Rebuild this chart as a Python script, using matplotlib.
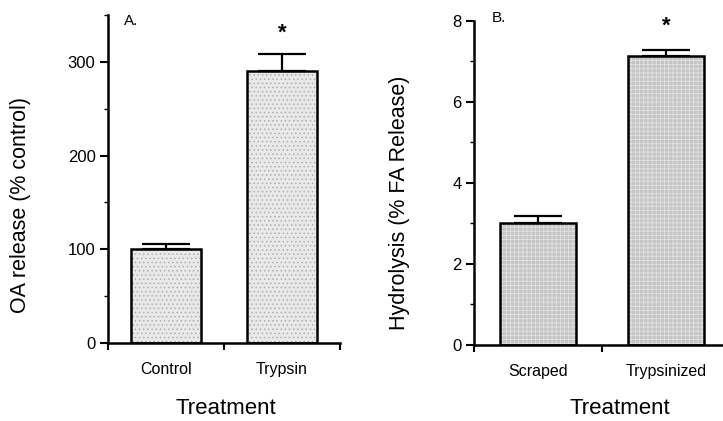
import matplotlib
matplotlib.use("Agg")
import matplotlib.pyplot as plt
from matplotlib.ticker import MultipleLocator, FixedLocator

plt.rcParams['font.family'] = ['Liberation Sans', 'DejaVu Sans']
plt.rcParams['hatch.linewidth'] = 0.6

# Panel A data
cats_a = ["Control", "Trypsin"]
vals_a = [100, 290.5]
err_a = [5.5, 18]
ylabel_a = "OA release (% control)"

# Panel B data
cats_b = ["Scraped", "Trypsinized"]
vals_b = [3.02, 7.14]
err_b = [0.17, 0.14]
ylabel_b = "Hydrolysis (% FA Release)"

fig = plt.figure(figsize=(7.23, 4.21), dpi=100)
axA = fig.add_axes([0.1494, 0.1853, 0.3209, 0.7791])
axB = fig.add_axes([0.6556, 0.1805, 0.3541, 0.7703])


def style(ax, cats, vals, errs, face, hatch, hcolor, ylim, major, minor, ylabel, panel, panel_y, star_y):
    xs = [0.5 + i for i in range(len(cats))]
    bars = ax.bar(xs, vals, width=0.6, color=face, edgecolor='black', linewidth=1.8,
                  hatch=hatch, zorder=2)
    for b in bars:
        b._hatch_color = matplotlib.colors.to_rgba(hcolor)
    ax.errorbar(xs, vals, yerr=[[0] * len(errs), errs], fmt='none', ecolor='black',
                elinewidth=1.6, capsize=17, capthick=1.6, zorder=3)
    ax.set_xlim(0, len(cats))
    ax.set_ylim(*ylim)
    ax.spines['top'].set_visible(False)
    ax.spines['right'].set_visible(False)
    ax.spines['left'].set_linewidth(1.8)
    ax.spines['bottom'].set_linewidth(1.8)
    ax.xaxis.set_major_locator(FixedLocator([0, 1, 2]))
    ax.xaxis.set_major_formatter(plt.NullFormatter())
    ax.xaxis.set_minor_locator(FixedLocator(xs))
    ax.set_xticklabels(cats, minor=True)
    ax.tick_params(axis='x', which='major', direction='out', length=5, width=1.5)
    ax.tick_params(axis='x', which='minor', length=0, pad=14, labelsize=11.5)
    ax.yaxis.set_major_locator(MultipleLocator(major))
    ax.yaxis.set_minor_locator(MultipleLocator(minor))
    ax.tick_params(axis='y', which='major', direction='out', length=6, width=1.5, labelsize=12, pad=3)
    ax.tick_params(axis='y', which='minor', direction='out', length=3, width=1.0)
    ax.set_ylabel(ylabel, fontsize=15.5)
    ax.set_xlabel("Treatment", fontsize=16)
    ax.xaxis.label.set_va('bottom')
    ax.text(0.07, panel_y, panel, transform=ax.transAxes, fontsize=11, va='top', ha='left')
    ax.text(xs[1], star_y, "*", fontsize=16, ha='center', va='center', fontweight='bold')


style(axA, cats_a, vals_a, err_a, '#e9e9e9', '....', '#b0b0b0', (0, 350), 100, 50,
      ylabel_a, "A.", 1.003, 331)
style(axB, cats_b, vals_b, err_b, '#c4c4c4', '++++', '#e2e2e2', (0, 8), 2, 1,
      ylabel_b, "B.", 1.03, 7.87)

axA.yaxis.set_label_coords(-0.33, 0.42)
axB.yaxis.set_label_coords(-0.25, 0.437)
axA.xaxis.set_label_coords(0.51, -0.232)
axB.xaxis.set_label_coords(0.57, -0.228)

fig.savefig("out.png", dpi=100)
